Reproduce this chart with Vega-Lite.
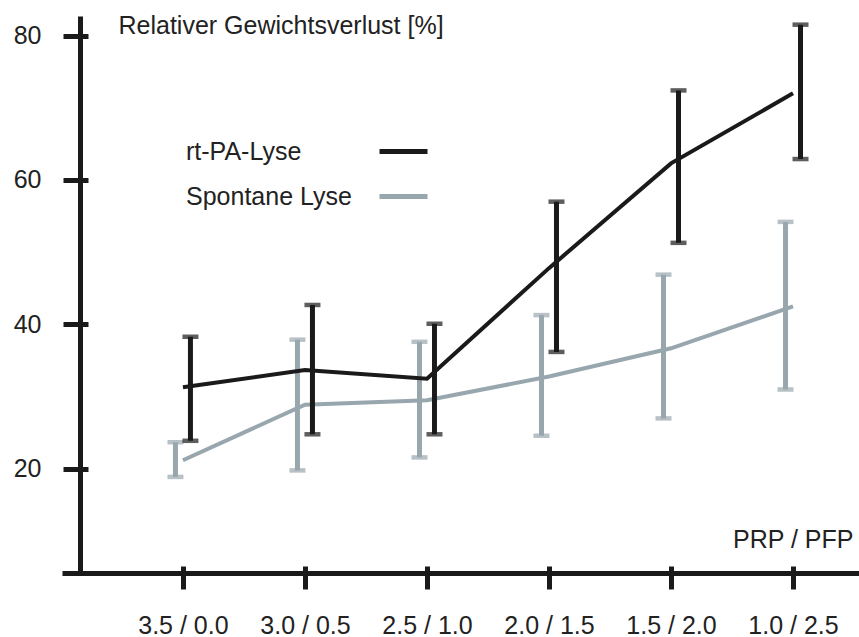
{
  "$schema": "https://vega.github.io/schema/vega-lite/v6.json",
  "width": 797,
  "height": 557,
  "autosize": "none",
  "padding": {"left": 62, "top": 16, "right": 0, "bottom": 64},
  "background": "white",
  "config": {
    "view": {"stroke": null},
    "font": "Liberation Sans",
    "axis": {"grid": false}
  },
  "data": {
    "values": [
      {"pair": "3.5 / 0.0", "series": "rt-PA-Lyse", "mean": 31.3, "lo": 23.9, "hi": 38.3},
      {"pair": "3.0 / 0.5", "series": "rt-PA-Lyse", "mean": 33.7, "lo": 24.8, "hi": 42.7},
      {"pair": "2.5 / 1.0", "series": "rt-PA-Lyse", "mean": 32.5, "lo": 24.8, "hi": 40.1},
      {"pair": "2.0 / 1.5", "series": "rt-PA-Lyse", "mean": 47.8, "lo": 36.2, "hi": 57.0},
      {"pair": "1.5 / 2.0", "series": "rt-PA-Lyse", "mean": 62.3, "lo": 51.3, "hi": 72.4},
      {"pair": "1.0 / 2.5", "series": "rt-PA-Lyse", "mean": 72.0, "lo": 62.9, "hi": 81.5},
      {"pair": "3.5 / 0.0", "series": "Spontane Lyse", "mean": 21.2, "lo": 18.9, "hi": 23.7},
      {"pair": "3.0 / 0.5", "series": "Spontane Lyse", "mean": 28.9, "lo": 19.8, "hi": 37.9},
      {"pair": "2.5 / 1.0", "series": "Spontane Lyse", "mean": 29.5, "lo": 21.6, "hi": 37.6},
      {"pair": "2.0 / 1.5", "series": "Spontane Lyse", "mean": 32.8, "lo": 24.6, "hi": 41.3},
      {"pair": "1.5 / 2.0", "series": "Spontane Lyse", "mean": 36.7, "lo": 27.0, "hi": 46.9},
      {"pair": "1.0 / 2.5", "series": "Spontane Lyse", "mean": 42.5, "lo": 31.0, "hi": 54.2}
    ]
  },
  "resolve": {"axis": {"x": "independent", "y": "independent"}},
  "layer": [
    {
      "transform": [{"filter": "datum.series === 'Spontane Lyse'"}],
      "mark": {"type": "line", "strokeWidth": 4},
      "encoding": {
        "x": {
          "field": "pair", "type": "ordinal", "sort": null,
          "scale": {"type": "point", "align": 0.647, "padding": 0.766},
          "axis": {
            "orient": "bottom", "domain": true, "domainColor": "#1a1a1a", "domainWidth": 5,
            "ticks": true, "tickColor": "#1a1a1a", "tickWidth": 5, "tickSize": 16,
            "labelFontSize": 25, "labelColor": "#222222", "labelAngle": 0,
            "labelBaseline": "alphabetic", "labelPadding": 44,
            "title": "PRP / PFP", "titleFontSize": 25, "titleFontWeight": "normal", "titleColor": "#222222",
            "titleAlign": "right", "titleBaseline": "alphabetic", "titleX": 791, "titleY": -26
          }
        },
        "y": {
          "field": "mean", "type": "quantitative",
          "scale": {"domain": [5.6, 82.7], "nice": false, "zero": false},
          "axis": {
            "orient": "left", "offset": -18, "values": [20, 40, 60, 80],
            "domain": true, "domainColor": "#1a1a1a", "domainWidth": 5,
            "ticks": true, "tickColor": "#1a1a1a", "tickWidth": 5, "tickSize": 17,
            "labelFontSize": 25, "labelColor": "#222222", "labelPadding": 22,
            "title": "Relativer Gewichtsverlust [%]", "titleFontSize": 25, "titleFontWeight": "normal",
            "titleColor": "#222222", "titleAngle": 0, "titleAlign": "left", "titleBaseline": "alphabetic",
            "titleX": 38, "titleY": 17
          }
        },
        "color": {
          "field": "series", "type": "nominal",
          "scale": {"domain": ["rt-PA-Lyse", "Spontane Lyse"], "range": ["#1a1a1a", "#98a6ae"]},
          "legend": {
            "orient": "none", "legendX": 315, "legendY": 109, "title": null,
            "padding": 0, "symbolType": "stroke", "symbolStrokeWidth": 5, "symbolSize": 2304,
            "labelFontSize": 25, "labelColor": "#222222", "labelOffset": -244, "labelLimit": 400,
            "rowPadding": 5
          }
        }
      }
    },
    {
      "transform": [{"filter": "datum.series === 'Spontane Lyse'"}],
      "mark": {"type": "rule", "strokeWidth": 5, "xOffset": -7.5},
      "encoding": {
        "x": {
          "field": "pair", "type": "ordinal", "sort": null,
          "axis": {"orient": "bottom", "offset": -7, "domain": false, "labels": false, "tickSize": 7, "tickWidth": 5, "tickColor": "#1a1a1a", "title": null}
        },
        "y": {
          "field": "lo", "type": "quantitative",
          "axis": {"orient": "left", "offset": -26, "values": [20, 40, 60, 80], "domain": false, "labels": false, "tickSize": 8, "tickWidth": 5, "tickColor": "#1a1a1a", "title": null}
        },
        "y2": {"field": "hi"},
        "color": {"field": "series", "type": "nominal", "legend": null}
      }
    },
    {
      "transform": [{"filter": "datum.series === 'Spontane Lyse'"}],
      "mark": {"type": "tick", "size": 16, "thickness": 4.5, "xOffset": -7.5},
      "encoding": {
        "x": {"field": "pair", "type": "ordinal", "sort": null, "axis": null},
        "y": {"field": "lo", "type": "quantitative", "axis": null},
        "color": {"field": "series", "type": "nominal", "legend": null}
      }
    },
    {
      "transform": [{"filter": "datum.series === 'Spontane Lyse'"}],
      "mark": {"type": "tick", "size": 16, "thickness": 4.5, "xOffset": -7.5},
      "encoding": {
        "x": {"field": "pair", "type": "ordinal", "sort": null, "axis": null},
        "y": {"field": "hi", "type": "quantitative", "axis": null},
        "color": {"field": "series", "type": "nominal", "legend": null}
      }
    },
    {
      "transform": [{"filter": "datum.series === 'rt-PA-Lyse'"}],
      "mark": {"type": "line", "strokeWidth": 4},
      "encoding": {
        "x": {"field": "pair", "type": "ordinal", "sort": null, "axis": null},
        "y": {"field": "mean", "type": "quantitative", "axis": null},
        "color": {"field": "series", "type": "nominal", "legend": null}
      }
    },
    {
      "transform": [{"filter": "datum.series === 'rt-PA-Lyse'"}],
      "mark": {"type": "rule", "strokeWidth": 5, "xOffset": 7.5},
      "encoding": {
        "x": {"field": "pair", "type": "ordinal", "sort": null, "axis": null},
        "y": {"field": "lo", "type": "quantitative", "axis": null},
        "y2": {"field": "hi"},
        "color": {"field": "series", "type": "nominal", "legend": null}
      }
    },
    {
      "transform": [{"filter": "datum.series === 'rt-PA-Lyse'"}],
      "mark": {"type": "tick", "size": 16, "thickness": 4.5, "xOffset": 7.5},
      "encoding": {
        "x": {"field": "pair", "type": "ordinal", "sort": null, "axis": null},
        "y": {"field": "lo", "type": "quantitative", "axis": null},
        "color": {"field": "series", "type": "nominal", "legend": null}
      }
    },
    {
      "transform": [{"filter": "datum.series === 'rt-PA-Lyse'"}],
      "mark": {"type": "tick", "size": 16, "thickness": 4.5, "xOffset": 7.5},
      "encoding": {
        "x": {"field": "pair", "type": "ordinal", "sort": null, "axis": null},
        "y": {"field": "hi", "type": "quantitative", "axis": null},
        "color": {"field": "series", "type": "nominal", "legend": null}
      }
    }
  ]
}
